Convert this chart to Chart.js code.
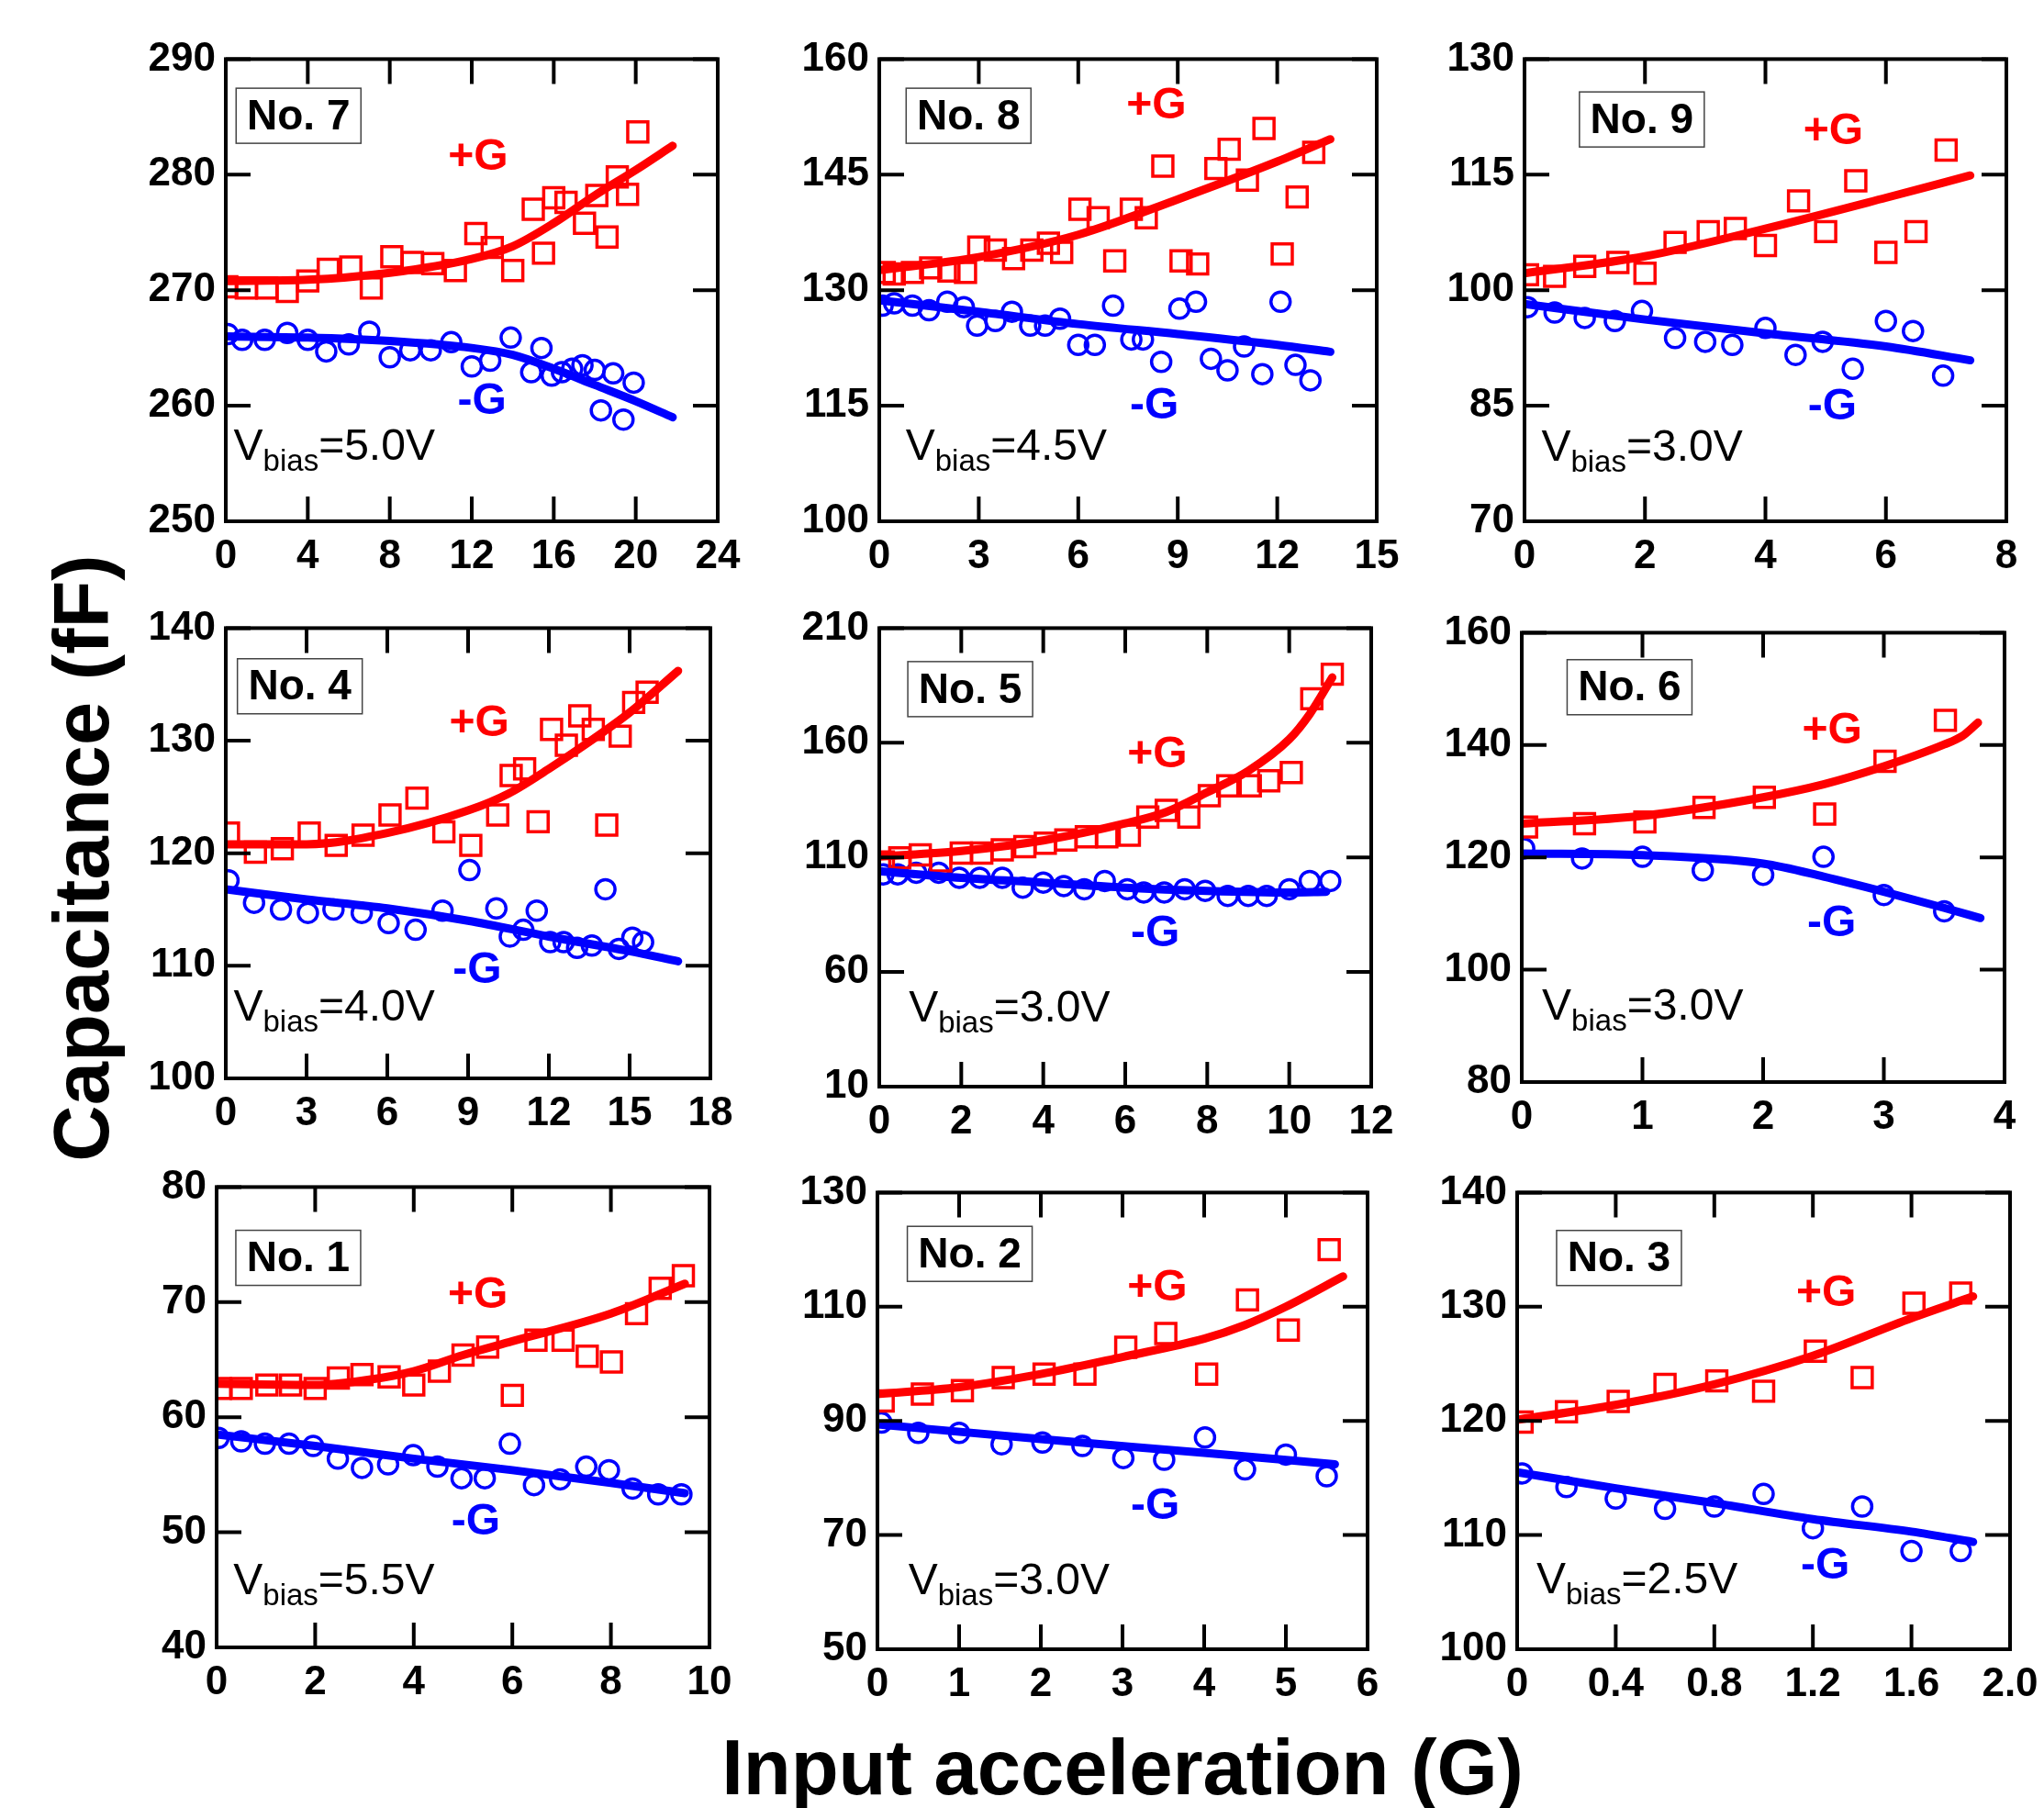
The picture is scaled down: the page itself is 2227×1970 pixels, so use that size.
<!DOCTYPE html>
<html>
<head>
<meta charset="utf-8">
<script src="https://cdn.jsdelivr.net/npm/chart.js@4"></script>
<style>
html, body { margin: 0; padding: 0; background: #fff; overflow: hidden; }
#page { position: relative; width: 2227px; height: 1970px; overflow: hidden; }
canvas { position: absolute; }
.title { position: absolute; font-family: "Liberation Sans", Arial, sans-serif; font-weight: bold;
         font-size: 85px; line-height: 85px; color: #000; white-space: nowrap; }
#ytitle { left: 88px; top: 935px; transform: translate(-50%, -50%) rotate(-90deg); }
#xtitle { left: 1223px; top: 1883px; transform: translateX(-50%); }
</style>
</head>
<body>
<div id="page">
  <div class="title" id="ytitle">Capacitance (fF)</div>
  <div class="title" id="xtitle">Input acceleration (G)</div>
</div>
<script>
// ---- data: [acceleration G, capacitance fF] ----

// No. 7
var no7XTicks = [0, 4, 8, 12, 16, 20, 24];
var no7YTicks = [250, 260, 270, 280, 290];
var no7Plus = [[0.05,270.3],[1.0,270.2],[2.0,270.2],[3.0,269.9],[4.0,270.8],[5.0,271.8],[6.1,272.0],[7.1,270.2],[8.1,272.9],[9.1,272.4],[10.1,272.3],[11.2,271.7],[12.2,274.9],[13.0,273.7],[14.0,271.7],[15.0,277.0],[15.5,273.2],[16.0,278.0],[16.6,277.6],[17.5,275.8],[18.1,278.2],[18.6,274.6],[19.1,279.8],[19.6,278.3],[20.1,283.7]];
var no7Minus = [[0.1,266.2],[0.8,265.7],[1.9,265.7],[3.0,266.3],[4.0,265.7],[4.9,264.7],[6.0,265.3],[7.0,266.4],[8.0,264.2],[9.0,264.8],[10.0,264.8],[11.0,265.5],[12.0,263.4],[12.9,263.9],[13.9,265.9],[14.9,262.9],[15.4,265.0],[15.9,262.6],[16.4,262.9],[16.9,263.2],[17.4,263.5],[18.0,263.1],[18.3,259.6],[18.9,262.8],[19.4,258.8],[19.9,262.0]];
var no7PlusFit = [[0,270.8],[4,270.9],[8,271.5],[12,272.7],[14,273.8],[16,275.8],[18,278.2],[20,280.4],[21.8,282.5]];
var no7MinusFit = [[0,266.0],[4,265.9],[8,265.6],[12,265.0],[14,264.4],[16,263.2],[18,261.8],[20,260.4],[21.8,259.0]];

// No. 8
var no8XTicks = [0, 3, 6, 9, 12, 15];
var no8YTicks = [100, 115, 130, 145, 160];
var no8Plus = [[0.15,132.3],[0.45,132.1],[1.0,132.3],[1.55,132.9],[2.1,132.5],[2.6,132.3],[3.0,135.6],[3.5,135.2],[4.05,134.1],[4.6,135.2],[5.1,136.1],[5.5,134.9],[6.05,140.5],[6.6,139.4],[7.1,133.8],[7.6,140.5],[8.05,139.4],[8.55,146.1],[9.1,133.8],[9.6,133.4],[10.15,145.8],[10.55,148.3],[11.1,144.3],[11.6,151.0],[12.15,134.7],[12.6,142.1],[13.1,147.9]];
var no8Minus = [[0.1,128.0],[0.45,128.3],[1.0,128.0],[1.5,127.4],[2.05,128.5],[2.55,127.8],[2.95,125.4],[3.5,126.0],[4.0,127.2],[4.55,125.4],[5.0,125.4],[5.45,126.3],[6.0,122.9],[6.5,122.9],[7.05,128.0],[7.6,123.6],[7.95,123.6],[8.5,120.7],[9.05,127.6],[9.55,128.5],[10.0,121.1],[10.5,119.6],[11.0,122.7],[11.55,119.1],[12.1,128.5],[12.55,120.3],[13.0,118.3]];
var no8PlusFit = [[0,132.6],[3,134.3],[6,137.2],[9,141.8],[12,146.7],[13.6,149.6]];
var no8MinusFit = [[0,128.7],[3,127.2],[6,125.6],[9,124.3],[12,122.9],[13.6,122.0]];

// No. 9
var no9XTicks = [0, 2, 4, 6, 8];
var no9YTicks = [70, 85, 100, 115, 130];
var no9Plus = [[0.05,102.0],[0.5,101.8],[1.0,103.1],[1.55,103.6],[2.0,102.2],[2.5,106.2],[3.05,107.6],[3.5,108.0],[4.0,105.8],[4.55,111.6],[5.0,107.6],[5.5,114.2],[6.0,104.9],[6.5,107.6],[7.0,118.2]];
var no9Minus = [[0.05,97.8],[0.5,97.1],[1.0,96.4],[1.5,96.0],[1.95,97.3],[2.5,93.8],[3.0,93.3],[3.45,92.9],[4.0,95.1],[4.5,91.6],[4.95,93.3],[5.45,89.8],[6.0,96.0],[6.45,94.7],[6.95,88.9]];
var no9PlusFit = [[0,102.2],[2,104.4],[4,108.0],[6,112.0],[7.4,114.9]];
var no9MinusFit = [[0,98.2],[2,96.2],[4,94.4],[6,92.7],[7.4,90.9]];

// No. 4
var no4XTicks = [0, 3, 6, 9, 12, 15, 18];
var no4YTicks = [100, 110, 120, 130, 140];
var no4Plus = [[0.1,121.8],[1.1,120.1],[2.1,120.4],[3.1,121.8],[4.1,120.7],[5.1,121.6],[6.1,123.4],[7.1,124.9],[8.1,121.9],[9.1,120.7],[10.1,123.4],[10.6,126.9],[11.1,127.5],[11.6,122.8],[12.1,131.0],[12.65,129.6],[13.15,132.2],[13.65,131.0],[14.15,122.5],[14.65,130.4],[15.15,133.4],[15.65,134.3]];
var no4Minus = [[0.1,117.6],[1.05,115.6],[2.05,115.0],[3.05,114.7],[4.0,115.0],[5.05,114.7],[6.05,113.8],[7.05,113.2],[8.05,114.9],[9.05,118.5],[10.05,115.1],[10.55,112.6],[11.05,113.2],[11.55,114.9],[12.05,112.1],[12.55,112.1],[13.05,111.6],[13.6,111.8],[14.1,116.8],[14.6,111.5],[15.1,112.5],[15.5,112.1]];
var no4PlusFit = [[0,120.8],[3,120.8],[6,121.8],[9,123.8],[10.5,125.3],[12,127.5],[13.5,129.9],[15,132.5],[16.8,136.2]];
var no4MinusFit = [[0,116.8],[3,115.9],[6,115.1],[9,114.0],[12,112.6],[15,111.3],[16.8,110.4]];

// No. 5
var no5XTicks = [0, 2, 4, 6, 8, 10, 12];
var no5YTicks = [10, 60, 110, 160, 210];
var no5Plus = [[0.1,108.0],[0.5,109.8],[1.0,111.1],[1.5,108.5],[2.0,111.9],[2.5,111.9],[3.0,113.3],[3.55,114.7],[4.05,116.2],[4.55,117.6],[5.05,119.0],[5.55,119.0],[6.1,119.7],[6.55,127.6],[7.0,130.5],[7.55,127.6],[8.05,136.9],[8.5,141.2],[9.05,141.2],[9.5,143.4],[10.05,147.0],[10.55,179.2],[11.05,189.9]];
var no5Minus = [[0.1,102.6],[0.45,102.6],[0.9,103.3],[1.45,103.3],[1.95,101.1],[2.45,101.1],[3.0,101.1],[3.5,96.8],[4.0,99.0],[4.5,97.5],[5.0,96.1],[5.5,99.7],[6.05,96.1],[6.45,94.7],[6.95,94.7],[7.45,96.1],[7.95,95.4],[8.5,93.2],[9.0,93.2],[9.45,93.2],[10.0,96.1],[10.5,99.7],[11.0,99.7]];
var no5PlusFit = [[0,110.4],[2,112.8],[4,117.4],[6,124.8],[7,129.8],[8,138.4],[9,147.7],[10,161.5],[10.5,172.5],[11.05,188.5]];
var no5MinusFit = [[0,104.0],[2,101.1],[4,99.0],[6,96.8],[8,95.4],[10,94.7],[10.9,95.0]];

// No. 6
var no6XTicks = [0, 1, 2, 3, 4];
var no6YTicks = [80, 100, 120, 140, 160];
var no6Plus = [[0.04,125.4],[0.52,126.0],[1.02,126.3],[1.51,128.9],[2.01,130.7],[2.51,127.7],[3.01,137.1],[3.51,144.4]];
var no6Minus = [[0.02,121.6],[0.5,119.8],[1.0,120.1],[1.5,117.7],[2.0,116.9],[2.5,120.1],[3.0,113.3],[3.5,110.4]];
var no6PlusFit = [[0,126.0],[1,127.4],[2,130.7],[2.5,133.0],[3,136.2],[3.5,140.1],[3.65,141.6],[3.78,144.0]];
var no6MinusFit = [[0,120.7],[1,120.4],[2,118.9],[2.5,116.6],[3,113.9],[3.5,111.0],[3.8,109.2]];

// No. 1
var no1XTicks = [0, 2, 4, 6, 8, 10];
var no1YTicks = [40, 50, 60, 70, 80];
var no1Plus = [[0.08,62.5],[0.5,62.5],[1.02,62.8],[1.5,62.8],[2.0,62.5],[2.47,63.4],[2.95,63.7],[3.5,63.5],[4.0,62.8],[4.52,64.0],[5.0,65.4],[5.5,66.1],[6.0,61.9],[6.48,66.7],[7.03,66.7],[7.52,65.3],[8.01,64.8],[8.52,69.0],[9.0,71.2],[9.47,72.3]];
var no1Minus = [[0.04,58.2],[0.5,57.9],[0.98,57.7],[1.47,57.7],[1.96,57.5],[2.46,56.4],[2.95,55.6],[3.48,55.9],[3.99,56.7],[4.48,55.7],[4.97,54.7],[5.44,54.7],[5.95,57.7],[6.44,54.1],[6.97,54.6],[7.5,55.7],[7.96,55.4],[8.44,53.8],[8.96,53.3],[9.43,53.3]];
var no1PlusFit = [[0,62.9],[2,62.8],[3,63.2],[4,64.0],[5,65.4],[6,66.6],[8,69.0],[9.5,71.6]];
var no1MinusFit = [[0,58.5],[2,57.5],[4,56.4],[6,55.4],[8,54.3],[9.5,53.4]];

// No. 2
var no2XTicks = [0, 1, 2, 3, 4, 5, 6];
var no2YTicks = [50, 70, 90, 110, 130];
var no2Plus = [[0.07,93.5],[0.55,94.7],[1.04,95.3],[1.54,97.6],[2.04,98.2],[2.54,98.2],[3.04,102.9],[3.53,105.3],[4.03,98.2],[4.53,111.2],[5.03,105.9],[5.53,120.0]];
var no2Minus = [[0.05,89.7],[0.5,87.9],[1.0,87.9],[1.52,85.9],[2.02,86.2],[2.51,85.6],[3.01,83.5],[3.51,83.2],[4.01,87.1],[4.5,81.5],[5.0,84.1],[5.5,80.3]];
var no2PlusFit = [[0,94.7],[1,95.9],[2,98.2],[3,101.2],[4,104.4],[4.5,106.8],[5,110.0],[5.7,115.3]];
var no2MinusFit = [[0,89.4],[2,86.8],[4,84.4],[5.6,82.4]];

// No. 3
var no3XTicks = [0, 0.4, 0.8, 1.2, 1.6, 2.0];
var no3YTicks = [100, 110, 120, 130, 140];
var no3Plus = [[0.02,119.9],[0.2,120.8],[0.41,121.7],[0.6,123.2],[0.81,123.5],[1.0,122.6],[1.21,126.1],[1.4,123.8],[1.61,130.3],[1.8,131.2]];
var no3Minus = [[0.02,115.4],[0.2,114.2],[0.4,113.2],[0.6,112.3],[0.8,112.5],[1.0,113.6],[1.2,110.6],[1.4,112.5],[1.6,108.6],[1.8,108.6]];
var no3PlusFit = [[0,120.1],[0.4,121.4],[0.8,123.2],[1.2,125.7],[1.6,129.0],[1.85,130.9]];
var no3MinusFit = [[0,115.5],[0.4,114.1],[0.8,112.8],[1.2,111.4],[1.6,110.3],[1.85,109.4]];

var RED = '#ff0000', BLUE = '#0000ff';
var FONT = '"Liberation Sans", Arial, sans-serif';
var TICK = 27;

// panel layout: plot area [left, top, right, bottom] on the page, label spots as fractions of the plot area
var panels = [
  { label: 'No. 7', bias: '=5.0V', area: [246, 57, 782, 568], xt: no7XTicks, yt: no7YTicks, plus: no7Plus, minus: no7Minus, plusFit: no7PlusFit, minusFit: no7MinusFit,
    box: [0.021, 0.063], pg: [0.513, 0.214], mg: [0.521, 0.742], vb: [0.016, 0.866] },
  { label: 'No. 8', bias: '=4.5V', area: [958, 57, 1500, 568], xt: no8XTicks, yt: no8YTicks, plus: no8Plus, minus: no8Minus, plusFit: no8PlusFit, minusFit: no8MinusFit,
    box: [0.054, 0.063], pg: [0.557, 0.102], mg: [0.553, 0.751], vb: [0.053, 0.866] },
  { label: 'No. 9', bias: '=3.0V', area: [1661, 57, 2186, 568], xt: no9XTicks, yt: no9YTicks, plus: no9Plus, minus: no9Minus, plusFit: no9PlusFit, minusFit: no9MinusFit,
    box: [0.114, 0.071], pg: [0.641, 0.158], mg: [0.639, 0.754], vb: [0.035, 0.868] },
  { label: 'No. 4', bias: '=4.0V', area: [246, 677, 774, 1175], xt: no4XTicks, yt: no4YTicks, plus: no4Plus, minus: no4Minus, plusFit: no4PlusFit, minusFit: no4MinusFit,
    box: [0.024, 0.068], pg: [0.523, 0.213], mg: [0.519, 0.761], vb: [0.016, 0.871] },
  { label: 'No. 5', bias: '=3.0V', area: [958, 677, 1494, 1184], xt: no5XTicks, yt: no5YTicks, plus: no5Plus, minus: no5Minus, plusFit: no5PlusFit, minusFit: no5MinusFit,
    box: [0.058, 0.073], pg: [0.565, 0.276], mg: [0.561, 0.667], vb: [0.060, 0.857] },
  { label: 'No. 6', bias: '=3.0V', area: [1658, 682, 2184, 1179], xt: no6XTicks, yt: no6YTicks, plus: no6Plus, minus: no6Minus, plusFit: no6PlusFit, minusFit: no6MinusFit,
    box: [0.094, 0.060], pg: [0.643, 0.220], mg: [0.642, 0.648], vb: [0.042, 0.861] },
  { label: 'No. 1', bias: '=5.5V', area: [236, 1286, 773, 1795], xt: no1XTicks, yt: no1YTicks, plus: no1Plus, minus: no1Minus, plusFit: no1PlusFit, minusFit: no1MinusFit,
    box: [0.039, 0.094], pg: [0.530, 0.235], mg: [0.526, 0.729], vb: [0.034, 0.884] },
  { label: 'No. 2', bias: '=3.0V', area: [956, 1292, 1490, 1797], xt: no2XTicks, yt: no2YTicks, plus: no2Plus, minus: no2Minus, plusFit: no2PlusFit, minusFit: no2MinusFit,
    box: [0.061, 0.074], pg: [0.571, 0.210], mg: [0.567, 0.688], vb: [0.063, 0.879] },
  { label: 'No. 3', bias: '=2.5V', area: [1653, 1292, 2190, 1797], xt: no3XTicks, yt: no3YTicks, plus: no3Plus, minus: no3Minus, plusFit: no3PlusFit, minusFit: no3MinusFit,
    box: [0.080, 0.083], pg: [0.627, 0.221], mg: [0.625, 0.819], vb: [0.039, 0.877], xDec: 1 }
];

function pts(arr) {
  return arr.map(function (p) { return { x: p[0], y: p[1] }; });
}

// box frame with inward ticks on all four sides
var framePlugin = {
  id: 'frame',
  afterDatasetsDraw: function (chart) {
    var ctx = chart.ctx, a = chart.chartArea, xs = chart.scales.x, ys = chart.scales.y;
    ctx.save();
    ctx.strokeStyle = '#000';
    ctx.lineWidth = 4;
    ctx.beginPath();
    xs.ticks.forEach(function (t) {
      var px = xs.getPixelForValue(t.value);
      ctx.moveTo(px, a.bottom); ctx.lineTo(px, a.bottom - TICK);
      ctx.moveTo(px, a.top); ctx.lineTo(px, a.top + TICK);
    });
    ys.ticks.forEach(function (t) {
      var py = ys.getPixelForValue(t.value);
      ctx.moveTo(a.left, py); ctx.lineTo(a.left + TICK, py);
      ctx.moveTo(a.right, py); ctx.lineTo(a.right - TICK, py);
    });
    ctx.stroke();
    ctx.strokeRect(a.left, a.top, a.right - a.left, a.bottom - a.top);
    ctx.restore();
  }
};

// No. box, +G / -G tags and the bias voltage
function makeNotes(p) {
  return {
    id: 'notes',
    afterDraw: function (chart) {
      var ctx = chart.ctx, a = chart.chartArea;
      var W = a.right - a.left, H = a.bottom - a.top;
      var fx = function (f) { return a.left + f * W; };
      var fy = function (f) { return a.top + f * H; };
      ctx.save();
      var bx = fx(p.box[0]), by = fy(p.box[1]);
      ctx.fillStyle = '#fff';
      ctx.fillRect(bx, by, 136, 60);
      ctx.strokeStyle = '#444';
      ctx.lineWidth = 1.5;
      ctx.strokeRect(bx, by, 136, 60);
      ctx.fillStyle = '#000';
      ctx.font = 'bold 46px ' + FONT;
      ctx.textAlign = 'center';
      ctx.textBaseline = 'middle';
      ctx.fillText(p.label, bx + 68, by + 32);

      ctx.font = 'bold 48px ' + FONT;
      ctx.fillStyle = RED;
      ctx.fillText('+G', fx(p.pg[0]), fy(p.pg[1]));
      ctx.fillStyle = BLUE;
      ctx.fillText('-G', fx(p.mg[0]), fy(p.mg[1]));

      ctx.textAlign = 'left';
      ctx.textBaseline = 'alphabetic';
      ctx.fillStyle = '#000';
      var x = fx(p.vb[0]), yb = fy(p.vb[1]);
      ctx.font = '48px ' + FONT;
      ctx.fillText('V', x, yb);
      x += ctx.measureText('V').width;
      ctx.font = '33px ' + FONT;
      ctx.fillText('bias', x, yb + 12);
      x += ctx.measureText('bias').width;
      ctx.font = '48px ' + FONT;
      ctx.fillText(p.bias, x, yb);
      ctx.restore();
    }
  };
}

var page = document.getElementById('page');
var padL = 130, padT = 30, padR = 50, padB = 75;

panels.forEach(function (p) {
  var L = p.area[0], T = p.area[1], R = p.area[2], B = p.area[3];
  var w = R - L + padL + padR, h = B - T + padT + padB;
  var c = document.createElement('canvas');
  c.width = w; c.height = h;
  c.style.left = (L - padL) + 'px';
  c.style.top = (T - padT) + 'px';
  c.style.width = w + 'px';
  c.style.height = h + 'px';
  page.appendChild(c);

  var tickFont = { family: FONT, size: 44, weight: 'bold' };

  new Chart(c, {
    type: 'line',
    data: {
      datasets: [
        { data: pts(p.plusFit), borderColor: RED, borderWidth: 9, pointRadius: 0, fill: false,
          cubicInterpolationMode: 'monotone', borderCapStyle: 'round', clip: 0, order: 0 },
        { data: pts(p.minusFit), borderColor: BLUE, borderWidth: 9, pointRadius: 0, fill: false,
          cubicInterpolationMode: 'monotone', borderCapStyle: 'round', clip: 0, order: 0 },
        { data: pts(p.plus), showLine: false, pointStyle: 'rect', pointRadius: 15.5, pointBorderWidth: 3.5,
          pointBorderColor: RED, pointBackgroundColor: 'rgba(0,0,0,0)', clip: 0, order: 1 },
        { data: pts(p.minus), showLine: false, pointStyle: 'circle', pointRadius: 10.5, pointBorderWidth: 3.5,
          pointBorderColor: BLUE, pointBackgroundColor: 'rgba(0,0,0,0)', clip: 0, order: 1 }
      ]
    },
    options: {
      responsive: false,
      animation: false,
      devicePixelRatio: 1,
      events: [],
      layout: { padding: { left: 0, top: padT, right: padR, bottom: 0 } },
      plugins: { legend: { display: false }, tooltip: { enabled: false } },
      scales: {
        x: {
          type: 'linear',
          min: p.xt[0],
          max: p.xt[p.xt.length - 1],
          grid: { display: false, drawTicks: false },
          border: { display: false },
          afterBuildTicks: function (s) { s.ticks = p.xt.map(function (v) { return { value: v }; }); },
          afterFit: function (s) { s.height = padB; },
          ticks: {
            font: tickFont, color: '#000', padding: 12, maxRotation: 0, autoSkip: false,
            callback: function (v) { return (p.xDec && v !== 0) ? v.toFixed(p.xDec) : String(v); }
          }
        },
        y: {
          min: p.yt[0],
          max: p.yt[p.yt.length - 1],
          grid: { display: false, drawTicks: false },
          border: { display: false },
          afterBuildTicks: function (s) { s.ticks = p.yt.map(function (v) { return { value: v }; }); },
          afterFit: function (s) { s.width = padL; },
          ticks: { font: tickFont, color: '#000', padding: 11, autoSkip: false }
        }
      }
    },
    plugins: [framePlugin, makeNotes(p)]
  });
});
</script>
</body>
</html>
